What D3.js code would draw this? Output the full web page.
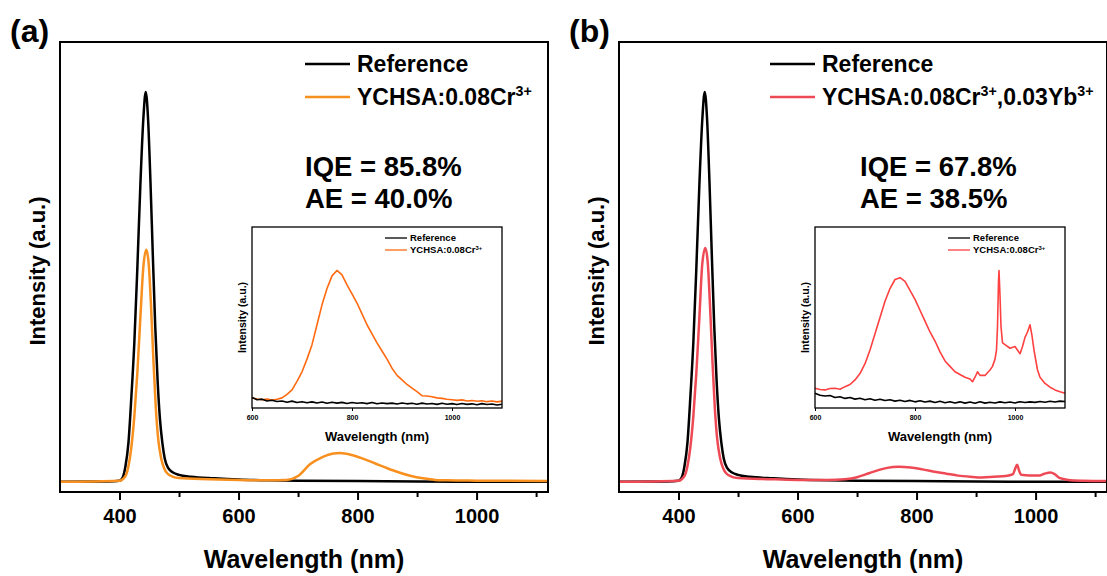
<!DOCTYPE html>
<html lang="en">
<head>
<meta charset="UTF-8">
<script src="https://cdnjs.cloudflare.com/ajax/libs/d3/7.8.5/d3.min.js"></script>
<style>
  body { margin: 0; background: white; }
  svg { display: block; font-family: "Liberation Sans", Arial, sans-serif; font-weight: bold; }
  .frame { fill: none; stroke: #000; stroke-width: 2; }
  .line { fill: none; stroke-linejoin: round; }
</style>
<title>PL spectra</title>
</head>
<body>
<script>
// ---- data ----
// main spectra: [wavelength nm, intensity normalised to reference peak]
var refMain = [[300,0],[380,0.001],[400,0.003],[405,0.01],[410,0.04],[415,0.10],[420,0.22],[425,0.36],[430,0.55],
  [435,0.76],[440,0.93],[444,1.0],[448,0.93],[452,0.77],[456,0.58],[460,0.40],[464,0.26],[468,0.16],[472,0.10],
  [476,0.06],[482,0.035],[490,0.024],[500,0.018],[520,0.013],[560,0.009],[600,0.006],[650,0.004],[700,0.003],
  [800,0.002],[900,0.001],[1120,0.0]];
var crMain = [[300,0],[400,0.003],[410,0.015],[415,0.04],[420,0.09],[425,0.17],[430,0.28],[435,0.42],[440,0.55],
  [445,0.595],[449,0.56],[453,0.45],[457,0.31],[461,0.19],[465,0.11],[470,0.06],[475,0.035],[480,0.022],[490,0.013],
  [500,0.01],[550,0.007],[600,0.005],[650,0.004],[680,0.005],[700,0.015],[720,0.045],[740,0.063],[760,0.073],
  [770,0.074],[790,0.069],[810,0.059],[830,0.047],[850,0.035],[870,0.024],[890,0.015],[910,0.009],[930,0.005],
  [950,0.004],[1000,0.003],[1120,0.002]];
var crYbMain = [[300,0],[400,0.003],[410,0.015],[415,0.04],[420,0.09],[425,0.17],[430,0.28],[435,0.42],[440,0.56],
  [445,0.60],[449,0.565],[453,0.45],[457,0.31],[461,0.19],[465,0.11],[470,0.06],[475,0.035],[480,0.022],[490,0.013],
  [500,0.01],[550,0.007],[600,0.005],[650,0.005],[680,0.007],[700,0.012],[720,0.022],[740,0.032],[760,0.038],
  [770,0.039],[790,0.037],[810,0.032],[830,0.026],[850,0.021],[870,0.016],[890,0.013],[910,0.011],[930,0.013],
  [950,0.015],[962,0.02],[966,0.035],[969,0.044],[972,0.03],[976,0.018],[990,0.016],[1005,0.016],[1015,0.021],
  [1025,0.024],[1032,0.02],[1040,0.01],[1055,0.005],[1080,0.003],[1120,0.002]];

// inset spectra (NIR zoom), intensity in % of inset height
var insetWl = [600,610,620,630,640,650,660,670,680,690,700,710,720,730,740,750,760,770,780,790,800,810,820,830,840,
  850,860,870,880,890,900,910,920,930,940,950,960,970,980,990,1000,1010,1020,1030,1040,1050,1060,1070,1080,1090,1100];
var refInsetA = [5.8,4.6,4.9,3.9,4.3,3.6,3.9,3.2,3.8,3.0,3.5,2.9,3.4,2.8,3.3,2.6,3.2,2.7,3.1,2.5,3.0,2.6,2.9,2.4,3.0,
  2.3,2.8,2.4,2.7,2.2,2.8,2.3,2.6,2.1,2.7,2.2,2.5,2.0,2.6,2.1,2.4,1.9,2.5,2.0,2.3,1.8,2.4,1.9,2.2,1.7,2.1];
var crInsetA = [5.5,5.0,4.6,4.9,4.4,4.8,5.6,7.5,10,14.7,20,27,35,46,57,66,73,76,73.5,68,63,58,52,46,41,36,31.5,27,22,
  18,15.5,13,11,9,6.8,6.6,6.2,5.6,5.3,4.8,4.6,4.2,4.5,3.9,4.1,3.7,4.0,3.5,3.9,3.4,3.8];
var refInsetB = [8.2,7.0,6.6,6.9,5.8,6.2,5.3,5.8,4.9,5.4,4.6,5.1,4.3,4.8,4.1,4.6,3.8,4.3,3.6,4.2,3.4,4.0,3.3,3.8,3.0,
  3.7,2.9,3.5,2.8,3.4,2.7,3.3,2.6,3.4,2.7,3.2,2.8,3.4,2.9,3.3,2.8,3.5,3.0,3.4,3.1,3.6,3.2,3.7,3.3,3.8,3.6];
var crYbInsetB = [[600,10.9],[610,10.2],[620,10],[630,10.8],[640,10.9],[650,10.4],[660,11.8],[670,13],[680,15.5],
  [690,19],[700,24.5],[710,32],[720,41],[730,50],[740,59],[750,66],[760,71],[770,72],[780,70],[790,65],[800,60],
  [810,54],[820,48],[830,42],[840,37],[850,31],[860,26],[870,23],[880,20],[890,18.5],[900,17],[910,16],[915,14.5],
  [920,17],[925,20],[930,18],[940,18],[950,21],[955,23],[960,27],[963,32],[965,45],[967,70],[968,76],[970,62],
  [972,45],[975,36],[980,35],[990,33],[1000,34],[1010,30],[1015,34],[1020,39],[1025,42],[1030,46],[1034,40],
  [1038,32],[1045,21],[1050,17],[1060,13.6],[1070,11.5],[1080,10],[1090,9],[1100,8.2]];

var majorTicks = [400, 600, 800, 1000];
var minorTicks = [500, 700, 900, 1100];
var insetTicks = [600, 800, 1000];

var svg = d3.select("body").append("svg").attr("width", 1107).attr("height", 576);

function zip(xs, ys) { return xs.map(function(x, i) { return [x, ys[i]]; }); }

// label with superscripts: parts = [[text, isSup], ...]
function richText(g, x, y, parts, size) {
  var t = g.append("text").attr("x", x).attr("y", y).attr("dy", ".35em").style("font-size", size + "px");
  var up = false;
  parts.forEach(function(p) {
    var s = t.append("tspan").text(p[0]);
    if (p[1] && !up) { s.attr("dy", -size * 0.38).style("font-size", (size * 0.62) + "px"); up = true; }
    else if (!p[1] && up) { s.attr("dy", size * 0.38); up = false; }
  });
  return t;
}

function panel(cfg) {
  var g = svg.append("g");
  var x = d3.scaleLinear().domain([300, 1120]).range([cfg.left, cfg.left + 488]);
  var y = d3.scaleLinear().domain([-0.026, 1.128]).range([492, 42]);
  var line = d3.line().x(function(d) { return x(d[0]); }).y(function(d) { return y(d[1]); }).curve(d3.curveMonotoneX);

  g.append("text").attr("x", cfg.left - 50).attr("y", 42).style("font-size", "32px").text(cfg.tag);

  g.append("path").datum(refMain).attr("class", "line").attr("d", line).attr("stroke", "#000").attr("stroke-width", 2.5);
  g.append("path").datum(cfg.sample).attr("class", "line").attr("d", line).attr("stroke", cfg.color).attr("stroke-width", 2.5);

  // bottom axis
  var ax = g.append("g").attr("transform", "translate(0,492)")
    .call(d3.axisBottom(x).tickValues(majorTicks).tickSize(8).tickPadding(9).tickFormat(d3.format("d")));
  ax.select(".domain").remove();
  ax.selectAll(".tick line").attr("stroke-width", 2);
  ax.selectAll(".tick text").style("font-size", "20px").style("font-family", "inherit").attr("fill", "#000");
  var mn = g.append("g").attr("transform", "translate(0,492)")
    .call(d3.axisBottom(x).tickValues(minorTicks).tickSize(5).tickFormat(""));
  mn.select(".domain").remove();
  mn.selectAll(".tick line").attr("stroke-width", 2);

  g.append("rect").attr("class", "frame").attr("x", cfg.left).attr("y", 42).attr("width", 488).attr("height", 450);

  g.append("text").attr("text-anchor", "middle").attr("x", cfg.left + 244).attr("y", 568)
    .style("font-size", "25px").text("Wavelength (nm)");
  g.append("text").attr("text-anchor", "middle")
    .attr("transform", "translate(" + (cfg.left - 23) + ",271) rotate(-90)").attr("dy", ".35em")
    .style("font-size", "22px").text("Intensity (a.u.)");

  // legend
  var lx = cfg.left + cfg.legX;
  [["#000", 64], [cfg.color, 97]].forEach(function(l) {
    g.append("line").attr("x1", lx).attr("x2", lx + 45).attr("y1", l[1]).attr("y2", l[1])
      .attr("stroke", l[0]).attr("stroke-width", 2.5);
  });
  richText(g, lx + 52, 64, [["Reference"]], 23);
  richText(g, lx + 52, 97, cfg.legend, 23);

  g.append("text").attr("x", cfg.left + cfg.iqeX).attr("y", 176).style("font-size", "27.5px").text(cfg.iqe);
  g.append("text").attr("x", cfg.left + cfg.iqeX).attr("y", 208).style("font-size", "27.5px").text(cfg.ae);

  // inset
  var il = cfg.left + cfg.insetX, it = 227, iw = 250, ih = 181;
  var xi = d3.scaleLinear().domain([600, 1100]).range([il, il + iw]);
  var yi = d3.scaleLinear().domain([0, 100]).range([it + ih, it]);
  var li = d3.line().x(function(d) { return xi(d[0]); }).y(function(d) { return yi(d[1]); });
  var gi = g.append("g");
  gi.append("rect").attr("x", il).attr("y", it).attr("width", iw).attr("height", ih).attr("fill", "#fff");
  gi.append("path").datum(cfg.insetSample).attr("class", "line").attr("d", li).attr("stroke", cfg.insetColor).attr("stroke-width", 1.6);
  gi.append("path").datum(cfg.insetRef).attr("class", "line").attr("d", li).attr("stroke", "#000").attr("stroke-width", 1.6);
  var ia = gi.append("g").attr("transform", "translate(0," + (it + ih) + ")")
    .call(d3.axisBottom(xi).tickValues(insetTicks).tickSize(3).tickPadding(4).tickFormat(d3.format("d")));
  ia.select(".domain").remove();
  ia.selectAll(".tick text").style("font-size", "7px").style("font-family", "inherit").attr("fill", "#000");
  gi.append("rect").attr("x", il).attr("y", it).attr("width", iw).attr("height", ih)
    .attr("fill", "none").attr("stroke", "#000").attr("stroke-width", 1.3);
  gi.append("text").attr("text-anchor", "middle").attr("x", il + iw / 2).attr("y", it + ih + 33)
    .style("font-size", "13px").text("Wavelength (nm)");
  gi.append("text").attr("text-anchor", "middle")
    .attr("transform", "translate(" + (il - 10) + "," + (it + ih / 2) + ") rotate(-90)").attr("dy", ".35em")
    .style("font-size", "10.5px").text("Intensity (a.u.)");
  var ix = il + 133;
  [["#000", it + 11], [cfg.insetColor, it + 23]].forEach(function(l) {
    gi.append("line").attr("x1", ix).attr("x2", ix + 22).attr("y1", l[1]).attr("y2", l[1])
      .attr("stroke", l[0]).attr("stroke-width", 1.3);
  });
  richText(gi, ix + 25, it + 11, [["Reference"]], 9.5);
  richText(gi, ix + 25, it + 23, [["YCHSA:0.08Cr"], ["3+", true]], 9.5);
}

panel({
  left: 60, tag: "(a)", sample: crMain, color: "#F7901E",
  legX: 245, legend: [["YCHSA:0.08Cr"], ["3+", true]],
  iqeX: 245, iqe: "IQE = 85.8%", ae: "AE = 40.0%",
  insetX: 192, insetRef: zip(insetWl, refInsetA), insetSample: zip(insetWl, crInsetA), insetColor: "#FF6A10"
});
panel({
  left: 619, tag: "(b)", sample: crYbMain, color: "#EE4A55",
  legX: 151, legend: [["YCHSA:0.08Cr"], ["3+", true], [",0.03Yb"], ["3+", true]],
  iqeX: 241, iqe: "IQE = 67.8%", ae: "AE = 38.5%",
  insetX: 196, insetRef: zip(insetWl, refInsetB), insetSample: crYbInsetB, insetColor: "#FF4040"
});
</script>
</body>
</html>
